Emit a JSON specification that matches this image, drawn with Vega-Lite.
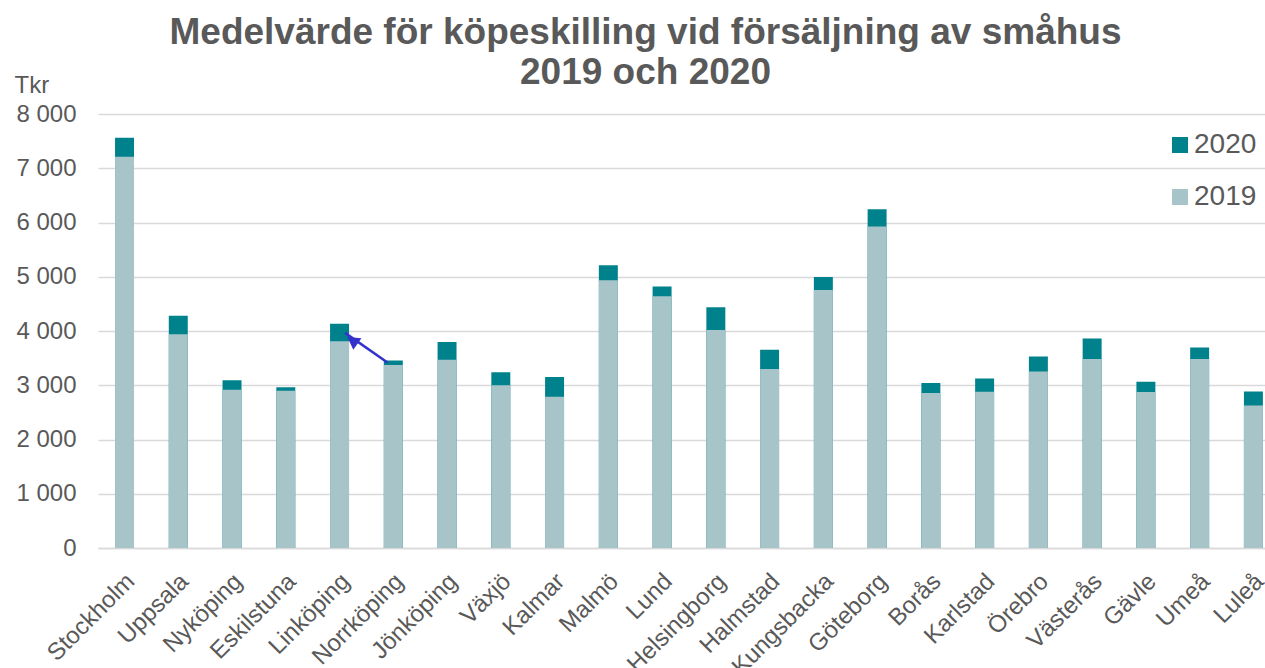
{
  "$schema": "https://vega.github.io/schema/vega-lite/v6.json",
  "width": 1167,
  "height": 434,
  "autosize": {"type": "none"},
  "padding": {"left": 98, "top": 114, "right": 0, "bottom": 120},
  "background": "white",
  "config": {
    "font": "Liberation Sans",
    "view": {"stroke": null}
  },
  "title": {
    "text": ["Medelvärde för köpeskilling vid försäljning av småhus", "2019 och 2020"],
    "fontSize": 37,
    "fontWeight": "bold",
    "color": "#595959",
    "font": "Liberation Sans",
    "anchor": "middle",
    "frame": "group",
    "dx": -36,
    "dy": 23,
    "lineHeight": 40
  },
  "datasets": {
    "pris": [
      {"stad": "Stockholm", "år": "2020", "värde": 7560},
      {"stad": "Uppsala", "år": "2020", "värde": 4280},
      {"stad": "Nyköping", "år": "2020", "värde": 3090},
      {"stad": "Eskilstuna", "år": "2020", "värde": 2965},
      {"stad": "Linköping", "år": "2020", "värde": 4135},
      {"stad": "Norrköping", "år": "2020", "värde": 3455},
      {"stad": "Jönköping", "år": "2020", "värde": 3795},
      {"stad": "Växjö", "år": "2020", "värde": 3240},
      {"stad": "Kalmar", "år": "2020", "värde": 3150},
      {"stad": "Malmö", "år": "2020", "värde": 5210},
      {"stad": "Lund", "år": "2020", "värde": 4820},
      {"stad": "Helsingborg", "år": "2020", "värde": 4440},
      {"stad": "Halmstad", "år": "2020", "värde": 3655},
      {"stad": "Kungsbacka", "år": "2020", "värde": 4995},
      {"stad": "Göteborg", "år": "2020", "värde": 6245},
      {"stad": "Borås", "år": "2020", "värde": 3040},
      {"stad": "Karlstad", "år": "2020", "värde": 3125},
      {"stad": "Örebro", "år": "2020", "värde": 3530},
      {"stad": "Västerås", "år": "2020", "värde": 3860},
      {"stad": "Gävle", "år": "2020", "värde": 3065},
      {"stad": "Umeå", "år": "2020", "värde": 3695},
      {"stad": "Luleå", "år": "2020", "värde": 2885},
      {"stad": "Stockholm", "år": "2019", "värde": 7210},
      {"stad": "Uppsala", "år": "2019", "värde": 3940},
      {"stad": "Nyköping", "år": "2019", "värde": 2915},
      {"stad": "Eskilstuna", "år": "2019", "värde": 2900},
      {"stad": "Linköping", "år": "2019", "värde": 3810},
      {"stad": "Norrköping", "år": "2019", "värde": 3375},
      {"stad": "Jönköping", "år": "2019", "värde": 3470},
      {"stad": "Växjö", "år": "2019", "värde": 3000},
      {"stad": "Kalmar", "år": "2019", "värde": 2790},
      {"stad": "Malmö", "år": "2019", "värde": 4935},
      {"stad": "Lund", "år": "2019", "värde": 4640},
      {"stad": "Helsingborg", "år": "2019", "värde": 4020},
      {"stad": "Halmstad", "år": "2019", "värde": 3300},
      {"stad": "Kungsbacka", "år": "2019", "värde": 4755},
      {"stad": "Göteborg", "år": "2019", "värde": 5925},
      {"stad": "Borås", "år": "2019", "värde": 2855},
      {"stad": "Karlstad", "år": "2019", "värde": 2880},
      {"stad": "Örebro", "år": "2019", "värde": 3255},
      {"stad": "Västerås", "år": "2019", "värde": 3485},
      {"stad": "Gävle", "år": "2019", "värde": 2875},
      {"stad": "Umeå", "år": "2019", "värde": 3485},
      {"stad": "Luleå", "år": "2019", "värde": 2625}
    ],
    "pil": [
      {"från": "Norrköping", "till": "Linköping", "y_från": 3413, "y_till": 3965, "y_spets": 3825}
    ]
  },
  "layer": [
    {
      "data": {"name": "pris"},
      "mark": {"type": "bar"},
      "encoding": {
        "x": {
          "field": "stad",
          "type": "nominal",
          "sort": null,
          "scale": {"paddingInner": 0.647, "paddingOuter": 0.178, "align": 0.89},
          "axis": {
            "title": null,
            "labelAngle": -45,
            "labelAlign": "right",
            "labelBaseline": "top",
            "labelFontSize": 24,
            "labelColor": "#595959",
            "labelPadding": 21,
            "labelOffset": -2,
            "labelOverlap": false,
            "labelBound": false,
            "ticks": false,
            "tickSize": 0,
            "domainColor": "#d9d9d9",
            "domainWidth": 1.5,
            "grid": false
          }
        },
        "y": {
          "field": "värde",
          "type": "quantitative",
          "stack": null,
          "scale": {"domain": [0, 8000], "nice": false},
          "axis": {
            "title": "Tkr",
            "titleAngle": 0,
            "titleAlign": "left",
            "titleBaseline": "alphabetic",
            "titleX": -84,
            "titleY": -22,
            "titleFontSize": 24,
            "titleFontWeight": "normal",
            "titleColor": "#595959",
            "values": [0, 1000, 2000, 3000, 4000, 5000, 6000, 7000, 8000],
            "labelExpr": "replace(format(datum.value, ','), ',', ' ')",
            "labelFontSize": 24,
            "labelColor": "#595959",
            "labelPadding": 22,
            "ticks": false,
            "tickSize": 0,
            "domain": false,
            "gridColor": "#d9d9d9",
            "gridWidth": 1.5
          }
        },
        "color": {
          "field": "år",
          "type": "nominal",
          "scale": {"domain": ["2020", "2019"], "range": ["#00828c", "#a7c4c9"]},
          "legend": {
            "title": null,
            "orient": "none",
            "legendX": 1068,
            "legendY": 17,
            "symbolType": "square",
            "symbolSize": 256,
            "symbolStrokeWidth": 0,
            "labelFontSize": 28,
            "labelColor": "#595959",
            "labelOffset": 0,
            "rowPadding": 24
          }
        },
        "order": {"field": "år", "type": "ordinal", "sort": "descending"}
      }
    },
    {
      "data": {"name": "pil"},
      "mark": {"type": "rule", "color": "#3333cc", "strokeWidth": 2.5, "xOffset": 5.5, "x2Offset": -5.5},
      "encoding": {
        "x": {"field": "till", "type": "nominal", "sort": null},
        "x2": {"field": "från"},
        "y": {"field": "y_till", "type": "quantitative"},
        "y2": {"field": "y_från"}
      }
    },
    {
      "data": {"name": "pil"},
      "mark": {"type": "point", "shape": "triangle-up", "filled": true, "color": "#3333cc", "opacity": 1, "size": 200, "angle": 305, "xOffset": 12.8},
      "encoding": {
        "x": {"field": "till", "type": "nominal", "sort": null},
        "y": {"field": "y_spets", "type": "quantitative"}
      }
    }
  ]
}
